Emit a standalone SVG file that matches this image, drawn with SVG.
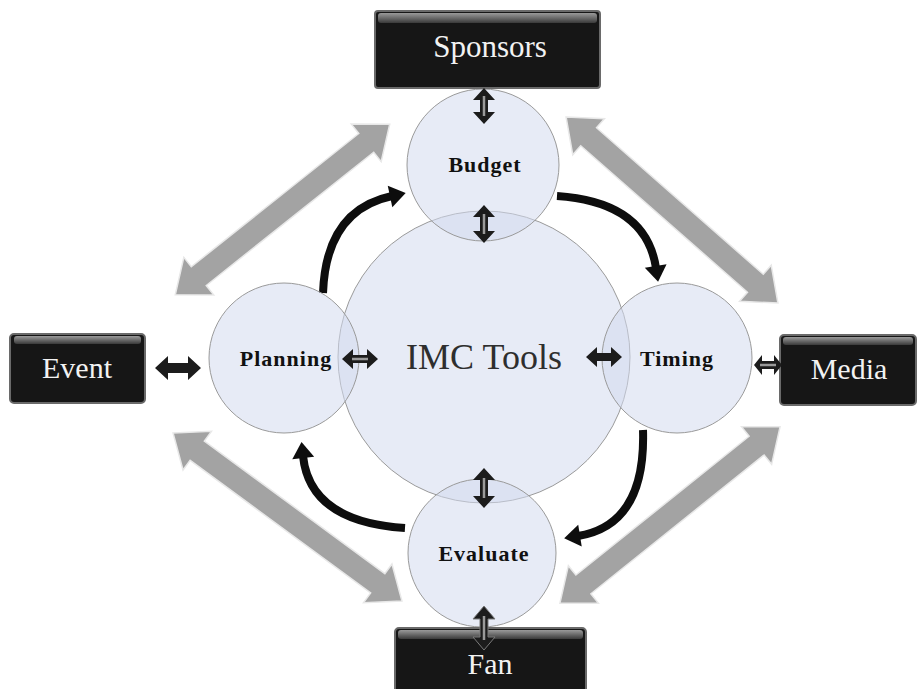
<svg xmlns="http://www.w3.org/2000/svg" width="920" height="689" viewBox="0 0 920 689">
<defs>
<style>
.circ{fill:#d3daee;fill-opacity:0.55;stroke:#9a9a9a;stroke-width:1}
.box{fill:#161616;stroke:#6a6a6a;stroke-width:2}
.gloss{fill:url(#gl)}
.boxt{font-family:"Liberation Serif",serif;fill:#f2f2f2;text-anchor:middle}
.lab{font-family:"Liberation Serif",serif;font-weight:bold;font-size:22px;letter-spacing:1px;fill:#111;text-anchor:middle}
.big{fill:#a3a3a3;stroke:#e8e8e8;stroke-width:1.5}
.sm{fill:#1c1c1c}
.smc{stroke:#9a9a9a;stroke-width:2.5}
.cur{fill:none;stroke:#0d0d0d;stroke-width:8;stroke-linecap:butt}
</style>
<linearGradient id="gl" x1="0" y1="0" x2="0" y2="1">
<stop offset="0" stop-color="#9a9a9a"/>
<stop offset="1" stop-color="#3a3a3a"/>
</linearGradient>
<marker id="ah" markerUnits="userSpaceOnUse" markerWidth="24" markerHeight="24" viewBox="0 -12 16 24" refX="2" refY="0" orient="auto">
<path d="M0,-11 L16,0 L0,11 Z" fill="#0d0d0d"/>
</marker>
</defs>
<rect width="920" height="689" fill="#ffffff"/>

<g id="connectors">
<polygon class="big" transform="translate(282.5,209.5) rotate(-38.5)" points="-137,0 -107,-24 -107,-12 107,-12 107,-24 137,0 107,24 107,12 -107,12 -107,24"/>
<polygon class="big" transform="translate(672,210) rotate(41.3)" points="-141,0 -111,-24 -111,-12 111,-12 111,-24 141,0 111,24 111,12 -111,12 -111,24"/>
<polygon class="big" transform="translate(287.5,517) rotate(36.3)" points="-142,0 -112,-24 -112,-12 112,-12 112,-24 142,0 112,24 112,12 -112,12 -112,24"/>
<polygon class="big" transform="translate(670,515) rotate(-38.7)" points="-141,0 -111,-24 -111,-12 111,-12 111,-24 141,0 111,24 111,12 -111,12 -111,24"/>
<path class="cur" d="M323,293 Q326,210 392,196" marker-end="url(#ah)"/>
<path class="cur" d="M557,196 Q646,202 656,268" marker-end="url(#ah)"/>
<path class="cur" d="M643,430 Q646,525 578,536" marker-end="url(#ah)"/>
<path class="cur" d="M405,528 Q310,522 303,456" marker-end="url(#ah)"/>
</g>

<g id="imc">
<circle class="circ" cx="484" cy="357" r="146"/>
<text x="484" y="369" font-family="Liberation Serif, serif" font-size="36" fill="#2e2e2e" text-anchor="middle">IMC Tools</text>
</g>
<g id="budget">
<circle class="circ" cx="483" cy="165" r="76"/>
<text class="lab" x="485" y="172">Budget</text>
</g>
<g id="planning">
<circle class="circ" cx="284" cy="358" r="75"/>
<text class="lab" x="286" y="366">Planning</text>
</g>
<g id="timing">
<circle class="circ" cx="677" cy="358" r="75"/>
<text class="lab" x="677" y="366">Timing</text>
</g>
<g id="evaluate">
<circle class="circ" cx="482" cy="553" r="74"/>
<text class="lab" x="484" y="561">Evaluate</text>
</g>

<g id="sponsors">
<rect class="box" x="375" y="11" width="225" height="77" rx="3"/>
<rect class="gloss" x="378" y="13" width="219" height="10" rx="3"/>
<text class="boxt" x="490" y="57" font-size="31">Sponsors</text>
</g>
<g id="event">
<rect class="box" x="10" y="334" width="135" height="69" rx="4"/>
<rect class="gloss" x="14" y="336" width="127" height="8" rx="3"/>
<text class="boxt" x="77" y="378" font-size="30">Event</text>
</g>
<g id="media">
<rect class="box" x="780" y="335" width="136" height="70" rx="4"/>
<rect class="gloss" x="783" y="337" width="130" height="8" rx="3"/>
<text class="boxt" x="849" y="379" font-size="30">Media</text>
</g>
<g id="fan">
<rect class="box" x="395" y="628" width="191" height="65" rx="4"/>
<rect class="gloss" x="398" y="630" width="185" height="9" rx="3"/>
<text class="boxt" x="490" y="674" font-size="30">Fan</text>
</g>

<g id="small-arrows">
<g transform="translate(484,106) rotate(90)"><polygon class="sm" points="-18,0 -6,-11 -6,-4 6,-4 6,-11 18,0 6,11 6,4 -6,4 -6,11"/><line class="smc" x1="-10" y1="0" x2="10" y2="0"/></g>
<g transform="translate(484,224) rotate(90)"><polygon class="sm" points="-19,0 -7,-11 -7,-4 7,-4 7,-11 19,0 7,11 7,4 -7,4 -7,11"/><line class="smc" x1="-10" y1="0" x2="10" y2="0"/></g>
<g transform="translate(484,488) rotate(90)"><polygon class="sm" points="-20,0 -8,-11 -8,-4 8,-4 8,-11 20,0 8,11 8,4 -8,4 -8,11"/><line class="smc" x1="-10" y1="0" x2="10" y2="0"/></g>
<g transform="translate(484,628) rotate(90)"><polygon class="sm" points="-22,0 -9,-11 -9,-4 9,-4 9,-11 22,0 9,11 9,4 -9,4 -9,11" stroke="#7a7a7a" stroke-width="1"/><line class="smc" x1="-12" y1="0" x2="12" y2="0"/></g>
<g transform="translate(178,368)"><polygon class="sm" points="-23,0 -10,-12 -10,-5 10,-5 10,-12 23,0 10,12 10,5 -10,5 -10,12"/></g>
<g transform="translate(360,359)"><polygon class="sm" points="-18,0 -7,-10 -7,-4 7,-4 7,-10 18,0 7,10 7,4 -7,4 -7,10"/><line class="smc" x1="-8" y1="0" x2="8" y2="0"/></g>
<g transform="translate(604,357)"><polygon class="sm" points="-18,0 -7,-10 -7,-4 7,-4 7,-10 18,0 7,10 7,4 -7,4 -7,10"/></g>
<g transform="translate(768,365)"><polygon class="sm" points="-14,0 -6,-10 -6,-4 6,-4 6,-10 14,0 6,10 6,4 -6,4 -6,10"/><line class="smc" x1="-8" y1="0" x2="8" y2="0"/></g>
</g>
</svg>
